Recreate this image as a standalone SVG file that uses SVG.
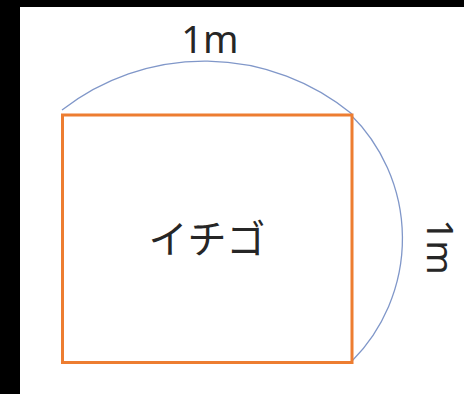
<svg xmlns="http://www.w3.org/2000/svg" width="464" height="394" viewBox="0 0 464 394">
<style>
.lbl{font-family:"Noto Sans","Noto Sans CJK JP",sans-serif;fill:#262626;}
.arc{fill:none;stroke:#8097c9;stroke-width:1.3;}
</style>
<rect x="0" y="0" width="464" height="394" fill="#ffffff"/>
<rect x="0" y="0" width="464" height="7" fill="#000"/>
<rect x="0" y="0" width="20" height="394" fill="#000"/>
<g id="connectors">
<path class="arc" d="M62,110 A232,232 0 0 1 352,114"/>
<path class="arc" d="M350,114 A174,174 0 0 1 352,361"/>
</g>
<g id="strawberry">
<rect x="62.5" y="115" width="289.5" height="247.5" fill="none" stroke="#ED7D31" stroke-width="3"/>
<text class="lbl" x="207" y="253" font-size="39" text-anchor="middle" font-family="'Noto Sans CJK JP',sans-serif">イチゴ</text>
</g>
<g id="label-top">
<text class="lbl" x="210" y="53" font-size="38" text-anchor="middle">1m</text>
</g>
<g id="label-right">
<text class="lbl" transform="translate(427,247) rotate(90)" x="0" y="0" font-size="37" text-anchor="middle">1m</text>
</g>
</svg>
